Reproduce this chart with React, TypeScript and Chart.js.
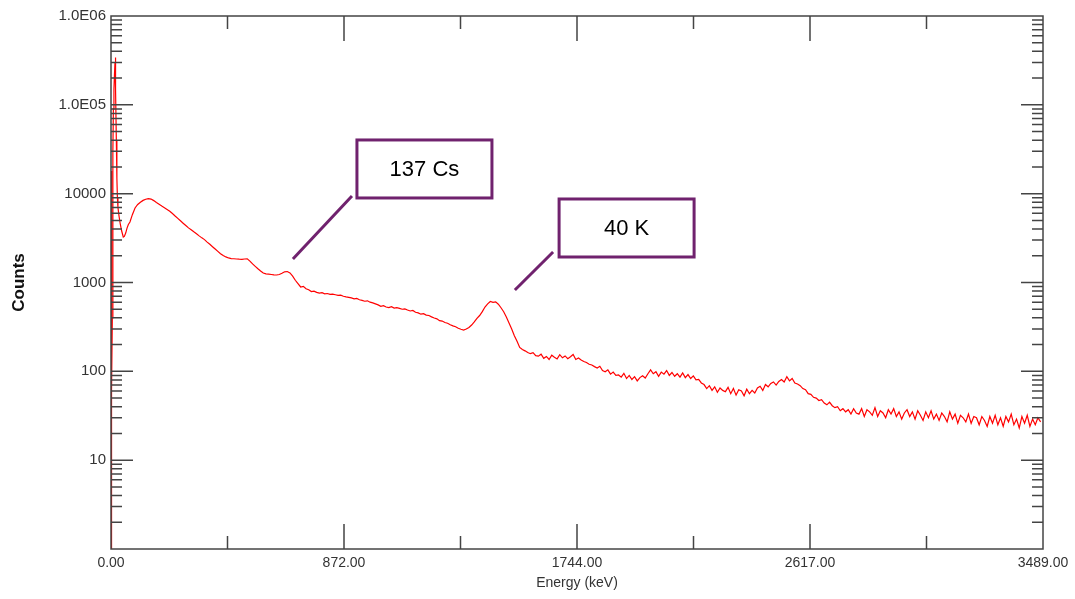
import React, { useEffect, useRef } from "react";
import { Chart, registerables } from "chart.js";

Chart.register(...registerables);

// Low-energy region (keV) with explicit channels
const lowEnergies = [0, 1, 2, 3, 5, 7, 9, 11, 13, 15, 16, 17, 18, 20, 22, 24, 26, 30, 35, 40, 46, 50, 55, 60, 65, 71, 80, 90];
const lowCounts = [1, 130, 18000, 60, 400, 30000, 90000, 150000, 220000, 300000, 340000, 280000, 150000, 40000, 15000, 9000, 7000, 5600, 4500, 3800, 3250, 3300, 3600, 4100, 4500, 4800, 5800, 6900];

// Counts every 10 keV starting at 100 keV
const CHANNEL_START = 100;
const CHANNEL_STEP = 10;
const channelCounts = [
  7550, 8000, 8400, 8650, 8800, 8700, 8350, 7950, 7600, 7250,
  6950, 6650, 6350, 5970, 5600, 5270, 4950, 4650, 4380, 4120,
  3930, 3720, 3540, 3350, 3180, 3040, 2850, 2690, 2530, 2380,
  2240, 2110, 2010, 1940, 1890, 1860, 1850, 1840, 1830, 1825,
  1840, 1850, 1740, 1620, 1520, 1430, 1350, 1280, 1250, 1240,
  1230, 1220, 1215, 1230, 1270, 1320, 1330, 1280, 1180, 1060,
  970, 890, 905, 850, 830, 790, 800, 775, 760, 768,
  745, 752, 735, 741, 728, 715, 720, 700, 688, 679,
  670, 655, 662, 640, 628, 615, 622, 600, 590, 575,
  560, 540, 548, 530, 522, 535, 515, 520, 512, 500,
  505, 490, 478, 485, 462, 455, 440, 445, 430, 425,
  410, 398, 390, 372, 368, 355, 348, 335, 325, 318,
  305, 298, 292, 300, 312, 332, 360, 395, 425, 470,
  530, 575, 612, 598, 605, 570, 520, 468, 410, 350,
  300, 252, 218, 186, 176, 170, 163, 158, 162, 150,
  148, 156, 140, 147, 136, 152, 144, 138, 154, 142,
  149, 139, 146, 155, 136, 141, 134, 129, 126, 120,
  118, 113, 109, 114, 102, 99, 104, 93, 98, 90,
  91, 86, 95, 83, 90, 81, 87, 78, 85, 89,
  84, 94, 104, 94, 99, 88, 98, 93, 102, 90,
  97, 88, 94, 86, 96, 85, 92, 83, 89, 80,
  81, 74, 71, 64, 69, 61, 67, 58, 65, 61,
  59, 66, 56, 64, 54, 62, 60, 53, 63, 56,
  61, 57, 65, 68, 61, 71, 67, 73, 76, 70,
  77, 81, 76, 87, 78, 83, 74, 72, 69, 64,
  62, 56, 55, 51, 50, 47, 48, 44, 42, 45,
  41, 39, 40, 36, 38, 35, 37, 33, 38, 34,
  33, 38, 31, 37, 35, 32, 39, 31, 36, 34,
  30, 37, 33, 38, 31, 35, 29, 34, 37, 31,
  35, 29, 36, 32, 28, 35, 30, 36, 29, 33,
  28, 34, 31, 27, 35, 29, 33, 26, 32, 30,
  27, 33, 26, 31, 30, 25, 31, 28, 24, 31,
  26, 32, 25, 30, 24, 31, 27, 33, 25, 29,
  23, 31, 26, 32, 24, 29, 25, 30, 27,
];

const xTickValues = [0, 872.25, 1744.5, 2616.75, 3489];
const xTickLabels = ["0.00", "872.00", "1744.00", "2617.00", "3489.00"];
const yTickValues = [1, 10, 100, 1000, 10000, 100000, 1000000];
const yTickLabels = ["", "10", "100", "1000", "10000", "1.0E05", "1.0E06"];

const annotations = [
  { label: "137 Cs", tipE: 681, tipC: 1840, topE: 902, topC: 9420, boxDx: 5, boxDy: -56 },
  { label: "40 K", tipE: 1512, tipC: 824, topE: 1655, topC: 2205, boxDx: 6, boxDy: -53 },
];

const PURPLE = "#70226e";
const AXIS = "#444444";

const framePlugin = {
  id: "frameTicks",
  afterDraw(chart: any) {
    const { ctx, chartArea } = chart;
    const { left, right, top, bottom } = chartArea;
    const xs = chart.scales.x;
    const ys = chart.scales.y;
    ctx.save();
    ctx.strokeStyle = AXIS;
    ctx.lineWidth = 1.5;
    ctx.strokeRect(left, top, right - left, bottom - top);
    ctx.beginPath();
    for (let d = 0; d < 6; d++) {
      const base = Math.pow(10, d);
      for (let m = 1; m <= 9; m++) {
        if (m === 1 && d === 0) continue;
        const py = ys.getPixelForValue(base * m);
        const len = m === 1 ? 22 : 11;
        ctx.moveTo(left, py);
        ctx.lineTo(left + len, py);
        ctx.moveTo(right, py);
        ctx.lineTo(right - len, py);
      }
    }
    for (let i = 0; i < xTickValues.length; i++) {
      const px = xs.getPixelForValue(xTickValues[i]);
      if (i > 0 && i < xTickValues.length - 1) {
        ctx.moveTo(px, bottom);
        ctx.lineTo(px, bottom - 25);
        ctx.moveTo(px, top);
        ctx.lineTo(px, top + 25);
      }
      if (i < xTickValues.length - 1) {
        const mid = xs.getPixelForValue((xTickValues[i] + xTickValues[i + 1]) / 2);
        ctx.moveTo(mid, bottom);
        ctx.lineTo(mid, bottom - 13);
        ctx.moveTo(mid, top);
        ctx.lineTo(mid, top + 13);
      }
    }
    ctx.stroke();

    ctx.strokeStyle = PURPLE;
    ctx.lineWidth = 3;
    for (const a of annotations) {
      const x1 = xs.getPixelForValue(a.tipE);
      const y1 = ys.getPixelForValue(a.tipC);
      const x2 = xs.getPixelForValue(a.topE);
      const y2 = ys.getPixelForValue(a.topC);
      ctx.beginPath();
      ctx.moveTo(x1, y1);
      ctx.lineTo(x2, y2);
      ctx.stroke();
      const bx = x2 + a.boxDx;
      const by = y2 + a.boxDy;
      const bw = 135;
      const bh = 58;
      ctx.fillStyle = "#ffffff";
      ctx.fillRect(bx, by, bw, bh);
      ctx.strokeRect(bx, by, bw, bh);
      ctx.fillStyle = "#000000";
      ctx.font = '22px "Liberation Sans", Arial, sans-serif';
      ctx.textAlign = "center";
      ctx.textBaseline = "middle";
      ctx.fillText(a.label, bx + bw / 2, by + bh / 2 + 1);
    }
    ctx.restore();
  },
};

export default function App() {
  const ref = useRef<HTMLCanvasElement | null>(null);
  useEffect(() => {
    document.body.style.margin = "0";
    const points: { x: number; y: number }[] = [];
    lowEnergies.forEach((e, i) => points.push({ x: e, y: lowCounts[i] }));
    channelCounts.forEach((c, i) => points.push({ x: CHANNEL_START + i * CHANNEL_STEP, y: c }));
    const tickFont = { family: '"Liberation Sans", Arial, sans-serif', size: 15 };
    const chart = new Chart(ref.current as HTMLCanvasElement, {
      type: "line",
      data: {
        datasets: [
          {
            data: points,
            borderColor: "#ff0000",
            borderWidth: 1.2,
            pointRadius: 0,
            tension: 0,
            fill: false,
          },
        ],
      },
      options: {
        animation: false,
        responsive: false,
        maintainAspectRatio: false,
        parsing: false as any,
        layout: { padding: { left: 0, right: 32, top: 16, bottom: 0 } },
        plugins: { legend: { display: false }, tooltip: { enabled: false } },
        scales: {
          x: {
            type: "linear",
            min: 0,
            max: 3489,
            grid: { display: false, drawTicks: false },
            border: { display: false },
            afterBuildTicks: (scale: any) => {
              scale.ticks = xTickValues.map((v) => ({ value: v }));
            },
            afterFit: (scale: any) => {
              scale.height = 50;
            },
            ticks: {
              autoSkip: false,
              maxRotation: 0,
              padding: 6,
              color: "#333333",
              font: { ...tickFont, size: 14 },
              callback: (_v: any, i: number) => xTickLabels[i],
            },
            title: {
              display: true,
              text: "Energy (keV)",
              color: "#333333",
              font: { ...tickFont, size: 14 },
              padding: { top: 0, bottom: 7 },
            },
          },
          y: {
            type: "logarithmic",
            min: 1,
            max: 1000000,
            grid: { display: false, drawTicks: false },
            border: { display: false },
            afterBuildTicks: (scale: any) => {
              scale.ticks = yTickValues.map((v) => ({ value: v }));
            },
            afterFit: (scale: any) => {
              scale.width = 111;
            },
            ticks: {
              autoSkip: false,
              padding: 5,
              color: "#333333",
              font: tickFont,
              callback: (_v: any, i: number) => yTickLabels[i],
            },
            title: {
              display: true,
              text: "Counts",
              color: "#111111",
              font: { ...tickFont, size: 17, weight: "bold" },
              padding: { top: 9, bottom: 0 },
            },
          },
        },
      },
      plugins: [framePlugin],
    });
    return () => chart.destroy();
  }, []);
  return <canvas ref={ref} width={1075} height={599} style={{ display: "block" }} />;
}
